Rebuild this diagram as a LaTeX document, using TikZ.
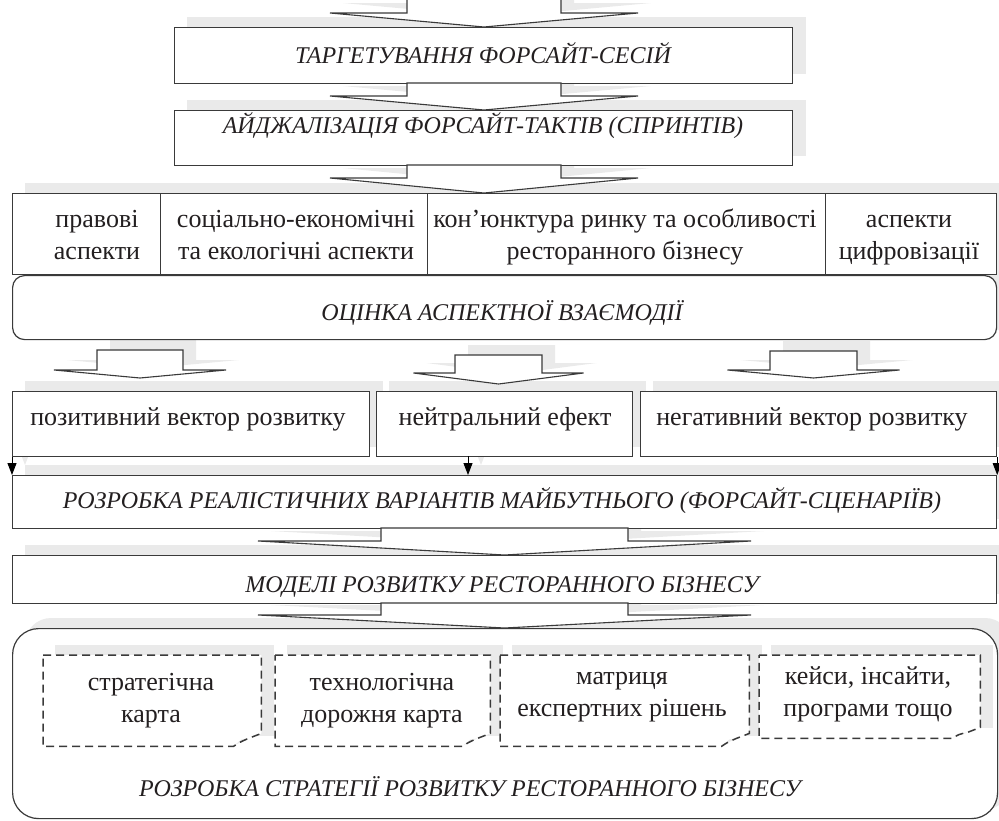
\documentclass[tikz,border=0pt]{standalone}
\usepackage{fontspec}
\setmainfont{Liberation Serif}
\usetikzlibrary{arrows.meta,calc}
\definecolor{linec}{HTML}{3A3A3A}
\definecolor{shadec}{HTML}{EAEAEA}
\definecolor{txt}{HTML}{231F20}
\pgfdeclarelayer{shadow}
\pgfdeclarelayer{back}
\pgfdeclarelayer{docsh}
\pgfsetlayers{shadow,back,docsh,main}
\newcommand{\mkblockarrow}[6]{%
  \begin{pgfonlayer}{shadow}
    \fill[shadec] ({#1-#2+13},{#4-10}) -- ({#1-#2+13},{#5-10}) -- ({#1-#3+13},{#5-10}) -- ({#1+13},{#6-10}) -- ({#1+#3+13},{#5-10}) -- ({#1+#2+13},{#5-10}) -- ({#1+#2+13},{#4-10}) -- cycle;
  \end{pgfonlayer}
  \draw[barr] ({#1-#2},#4) -- ({#1-#2},#5) -- ({#1-#3},#5) -- (#1,#6) -- ({#1+#3},#5) -- ({#1+#2},#5) -- ({#1+#2},#4) -- cycle;
}
\newcommand{\mkshadow}[2][]{%
  \begin{pgfonlayer}{shadow}
    \fill[shadec,#1] ($(#2.north west)+(13,-10)$) rectangle ($(#2.south east)+(13,-10)$);
  \end{pgfonlayer}
}
\newcommand{\mkdoc}[2]{%
  \begin{pgfonlayer}{docsh}
    \fill[shadec] ($(#1.north west)+(12,-10)$) rectangle ($(#1.south east)+(13,-10)$);
  \end{pgfonlayer}
  \fill[white] (#1.north west) -- (#1.north east) -- ($(#1.south east)+(0,-#2)$) -- ($(#1.south east)+(-13,{-#2+5})$) .. controls ($(#1.south east)+(-22,-4)$) .. ($(#1.south east)+(-28,0)$) -- (#1.south west) -- cycle;
  \fill[shadec] ($(#1.south east)+(-13,{-#2+5})$) -- ($(#1.south east)+(-27,-1)$) -- ($(#1.south east)+(-20,{-#2+6})$) -- cycle;
  \draw[doc] (#1.north west) -- (#1.north east) -- ($(#1.south east)+(0,-#2)$) -- ($(#1.south east)+(-13,{-#2+5})$) .. controls ($(#1.south east)+(-22,-4)$) .. ($(#1.south east)+(-28,0)$) -- (#1.south west) -- cycle;
}
\begin{document}
\begin{tikzpicture}[x=1pt,y=-1pt,
  every node/.style={text=txt},
  box/.style={draw=linec,line width=1.2pt,fill=white,inner sep=0pt,anchor=north west},
  docnode/.style={inner sep=0pt,anchor=north west},
  lbl/.style={anchor=base,align=center,inner sep=0pt,font=\fontsize{26}{32}\selectfont},
  ilbl/.style={anchor=base,align=center,inner sep=0pt,font=\fontsize{24}{32}\selectfont\itshape},
  barr/.style={draw=linec,line width=1.1pt,fill=white,line join=miter},
  doc/.style={draw=linec,line width=1.5pt,dash pattern=on 8pt off 5pt},
  sarr/.style={draw=black,line width=1pt,-{Triangle[width=9pt,length=12pt]}},
  garr/.style={draw=shadec,line width=1pt,-{Triangle[width=9pt,length=12pt]}},
]
\useasboundingbox (0,0) rectangle (999,820);

% top boxes
\node[box,minimum width=618pt,minimum height=56pt] (targ) at (174,27) {};
\mkshadow{targ}
\node[box,minimum width=618pt,minimum height=55pt] (agile) at (174,110) {};
\mkshadow{agile}
\node[ilbl] (targT) at (483,63) {ТАРГЕТУВАННЯ ФОРСАЙТ-СЕСІЙ};
\node[ilbl] (agileT) at (483,133) {АЙДЖАЛІЗАЦІЯ ФОРСАЙТ-ТАКТІВ (СПРИНТІВ)};

\mkblockarrow{484}{77}{154}{-5}{13}{27}
\mkblockarrow{484}{77}{154}{83}{96}{110}
\mkblockarrow{484}{77}{154}{165}{178}{193}

% aspects table
\node[box,minimum width=148pt,minimum height=81pt] (c1) at (12,193) {};
\node[box,minimum width=267pt,minimum height=81pt] (c2) at (160,193) {};
\node[box,minimum width=398pt,minimum height=81pt] (c3) at (427,193) {};
\node[box,minimum width=171pt,minimum height=81pt] (c4) at (825,193) {};
\begin{pgfonlayer}{shadow}
  \fill[shadec] ($(c1.north west)+(13,-10)$) rectangle ($(c4.south east)+(13,-10)$);
\end{pgfonlayer}
\node[lbl] (c1T) at (97,259) {правові\\аспекти};
\node[lbl] (c2T) at (296,259) {соціально-економічні\\та екологічні аспекти};
\node[lbl] (c3T) at (625,259) {кон’юнктура ринку та особливості\\ресторанного бізнесу};
\node[lbl] (c4T) at (909,259) {аспекти\\цифровізації};

% evaluation
\node[box,rounded corners=12pt,minimum width=984pt,minimum height=64pt] (eval) at (12,275) {};
\mkshadow[rounded corners=12pt]{eval}
\node[ilbl] (evalT) at (502,320) {ОЦІНКА АСПЕКТНОЇ ВЗАЄМОДІЇ};

\mkblockarrow{140}{43}{86}{350}{370}{378}
\mkblockarrow{498.5}{43.5}{85}{355}{373}{384}
\mkblockarrow{813.5}{43.5}{86}{351}{370}{378}

% vectors
\node[box,minimum width=357pt,minimum height=65pt] (pA) at (12,391) {};
\node[box,minimum width=256pt,minimum height=65pt] (pB) at (376,391) {};
\node[box,minimum width=356pt,minimum height=65pt] (pC) at (640,391) {};
\mkshadow{pA}\mkshadow{pB}\mkshadow{pC}
\node[lbl] (pAT) at (188,425) {позитивний вектор розвитку};
\node[lbl] (pBT) at (505,425) {нейтральний ефект};
\node[lbl] (pCT) at (812,425) {негативний вектор розвитку};

% scenarios
\node[box,minimum width=984pt,minimum height=53pt] (real) at (12,475) {};
\mkshadow{real}
\node[ilbl] (realT) at (502,508) {РОЗРОБКА РЕАЛІСТИЧНИХ ВАРІАНТІВ МАЙБУТНЬОГО (ФОРСАЙТ-СЦЕНАРІЇВ)};

\coordinate (mS) at (468,456);
\coordinate (mE) at (468,475);
\coordinate (gA1) at (25,446);
\coordinate (gA2) at (25,465);
\coordinate (gB1) at (481,446);
\coordinate (gB2) at (481,465);
\begin{pgfonlayer}{shadow}
  \draw[garr] (gA1) -- (gA2);
  \draw[garr] (gB1) -- (gB2);
\end{pgfonlayer}
\draw[sarr] (pA.south west) -- (real.north west);
\draw[sarr] (mS) -- (mE);
\draw[sarr] (pC.south east) -- (real.north east);

\mkblockarrow{504.5}{123.5}{246.5}{528}{541}{555}

% models
\node[box,minimum width=984pt,minimum height=48pt] (models) at (12,555) {};
\mkshadow{models}
\node[ilbl] (modelsT) at (502,592) {МОДЕЛІ РОЗВИТКУ РЕСТОРАННОГО БІЗНЕСУ};

\mkblockarrow{504.5}{123.5}{246.5}{603}{615}{628}

% strategy
\begin{pgfonlayer}{back}
  \node[box,rounded corners=26pt,minimum width=985pt,minimum height=190pt] (strat) at (12,628) {};
\end{pgfonlayer}
\mkshadow[rounded corners=26pt]{strat}
\node[docnode,minimum width=218pt,minimum height=91pt] (d1) at (43,655) {};
\node[docnode,minimum width=215pt,minimum height=91pt] (d2) at (275,655) {};
\node[docnode,minimum width=249pt,minimum height=91pt] (d3) at (500,655) {};
\node[docnode,minimum width=221pt,minimum height=83pt] (d4) at (759,655) {};
\mkdoc{d1}{13}
\mkdoc{d2}{13}
\mkdoc{d3}{13}
\mkdoc{d4}{11}
\node[lbl] (d1T) at (151,722) {стратегічна\\карта};
\node[lbl] (d2T) at (382,722) {технологічна\\дорожня карта};
\node[lbl] (d3T) at (622,716) {матриця\\експертних рішень};
\node[lbl] (d4T) at (868,716) {кейси, інсайти,\\програми тощо};
\node[ilbl] (stratT) at (470,796) {РОЗРОБКА СТРАТЕГІЇ РОЗВИТКУ РЕСТОРАННОГО БІЗНЕСУ};
\end{tikzpicture}
\end{document}
